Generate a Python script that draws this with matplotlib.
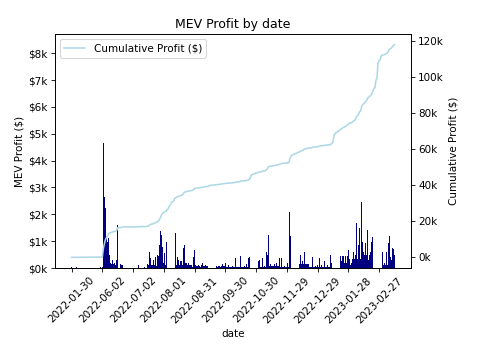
import matplotlib
matplotlib.use("Agg")
import matplotlib.pyplot as plt
import matplotlib.ticker as mticker
import numpy as np
import pandas as pd

# 날짜 (첫 날 하나 + 5월 4일부터 매일)
dates = ["2022-01-30"] + [d.strftime("%Y-%m-%d") for d in pd.date_range("2022-05-04", "2023-03-14")]

# 일별 MEV 수익 ($)
profit = [
    40, 0, 10, 0, 5, 20, 0, 0, 15, 5,
    0, 10, 0, 5, 0, 0, 20, 5, 0, 10,
    0, 15, 5, 0, 0, 10, 0, 5, 20, 10,
    30, 4660, 2650, 2240, 1160, 970, 1100, 500, 200, 150,
    300, 150, 200, 100, 300, 1600, 5, 10, 150, 100,
    120, 5, 0, 10, 5, 0, 5, 10, 0, 5,
    0, 10, 5, 0, 10, 120, 5, 0, 10, 5,
    0, 20, 10, 5, 150, 100, 600, 360, 100, 120,
    300, 100, 420, 80, 500, 450, 860, 1360, 1230, 800,
    200, 550, 100, 980, 120, 1540, 800, 860, 1100, 100,
    730, 1300, 100, 420, 300, 100, 250, 250, 100, 730,
    860, 200, 170, 100, 200, 100, 100, 100, 50, 420,
    670, 100, 80, 60, 100, 80, 50, 100, 200, 80,
    60, 100, 80, 60, 360, 80, 150, 60, 100, 50,
    80, 60, 40, 80, 60, 50, 80, 150, 60, 70,
    170, 30, 20, 100, 30, 20, 40, 80, 20, 30,
    360, 20, 40, 30, 20, 450, 30, 40, 20, 80,
    30, 150, 40, 360, 420, 1800, 600, 150, 300, 50,
    350, 50, 250, 300, 50, 50, 360, 50, 80, 50,
    600, 500, 1230, 80, 150, 80, 80, 80, 150, 80,
    200, 80, 80, 360, 30, 360, 30, 30, 80, 30,
    30, 200, 30, 2100, 1200, 950, 150, 150, 300, 150,
    420, 250, 150, 500, 150, 250, 150, 600, 150, 150,
    150, 150, 20, 20, 20, 420, 20, 20, 80, 20,
    120, 20, 360, 20, 120, 20, 20, 250, 20, 20,
    120, 20, 20, 480, 200, 860, 3500, 1300, 450, 200,
    450, 600, 450, 250, 450, 450, 200, 450, 200, 450,
    670, 350, 120, 200, 350, 600, 350, 480, 1670, 350,
    860, 1480, 350, 2470, 980, 600, 500, 920, 500, 1420,
    300, 500, 600, 980, 1170, 1770, 200, 4200, 1270, 8300,
    1230, 300, 2200, 600, 100, 200, 100, 600, 100, 920,
    1200, 400, 300, 730, 700, 500,
]

x = np.arange(len(dates))
cumulative = np.cumsum(profit)

fig = plt.figure(figsize=(6.4, 347 / 75), dpi=75)
ax = fig.add_axes([55 / 480, 1 - 268 / 347, 356 / 480, 234 / 347])

ax.bar(x, profit, color="navy")
ax.set_xlabel("date")
ax.set_ylabel("MEV Profit ($)")
ax.set_title("MEV Profit by date")
ax.yaxis.set_major_formatter(mticker.FuncFormatter(lambda v, p: "${:.0f}k".format(v / 1000)))

ax2 = ax.twinx()
ax2.plot(x, cumulative, color="lightblue", label="Cumulative Profit ($)")
ax2.set_ylabel("Cumulative Profit ($)")
ax2.yaxis.set_major_formatter(mticker.FuncFormatter(lambda v, p: "{:.0f}k".format(v / 1000)))
ax2.legend(loc="upper left")

ax.set_xticks(x[::30])
ax.set_xticklabels(dates[::30], rotation=45)

fig.savefig("out.png", dpi=75)
